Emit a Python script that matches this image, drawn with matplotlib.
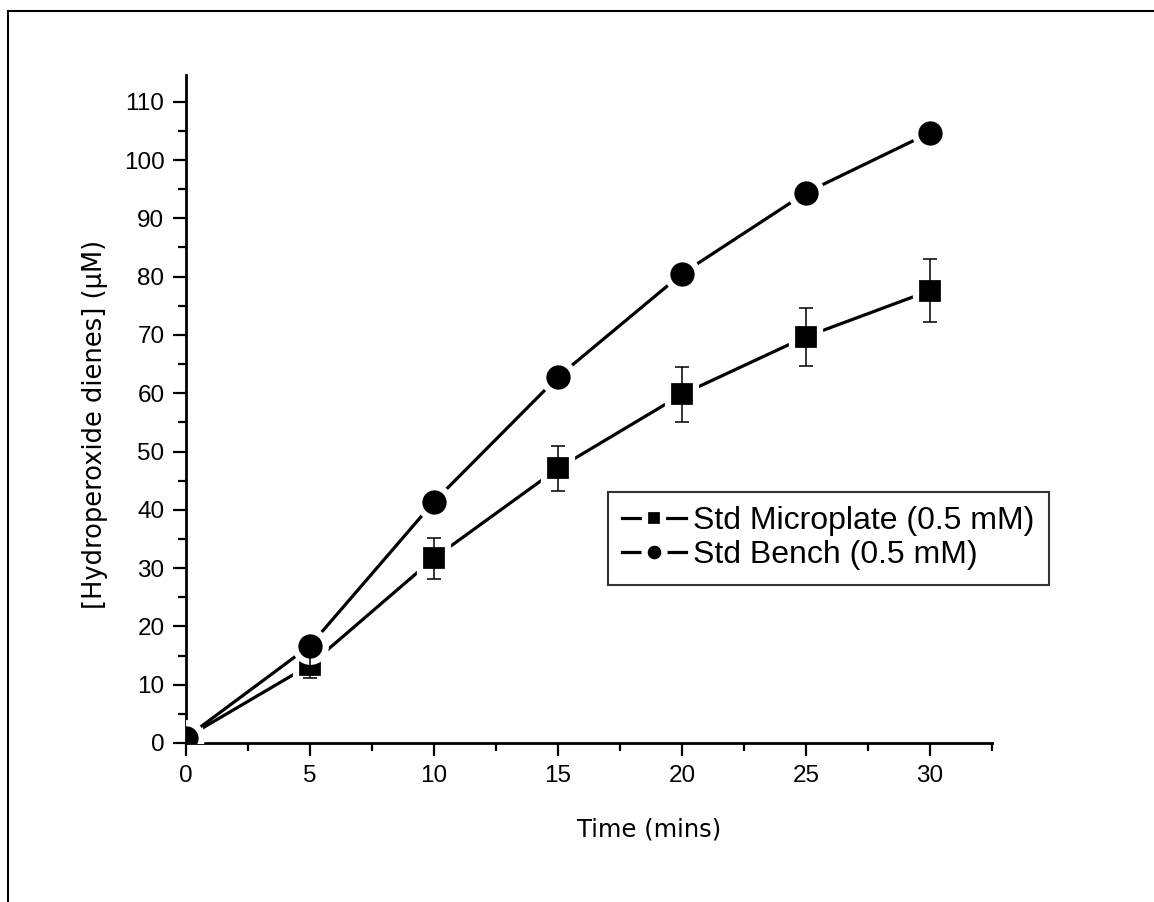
import numpy as np
import matplotlib
matplotlib.use('Agg')
import matplotlib.pyplot as plt
from matplotlib.lines import Line2D

# data
time = [0, 5, 10, 15, 20, 25, 30]
micro = [0.9, 13.4, 31.7, 47.1, 59.8, 69.7, 77.6]
micro_err = [0, 2.3, 3.5, 3.85, 4.7, 5.0, 5.4]
bench = [0.9, 16.7, 41.4, 62.8, 80.5, 94.4, 104.7]

tickfont = 'Liberation Sans'
labelfont = 'DejaVu Sans'

fig = plt.figure(figsize=(11.54, 9.02), dpi=100)
ax = fig.add_axes([0.1612, 0.1763, 0.8596 - 0.1612, 0.9169 - 0.1763])

# lines with a white rim round the markers (gap between line and marker)
ax.plot(time, micro, '-s', color='black', lw=2.3, ms=20, mfc='black', mec='white', mew=4.5,
        label='Std Microplate (0.5 mM)', zorder=3)
ax.plot(time, bench, '-o', color='black', lw=2.3, ms=22, mfc='black', mec='white', mew=4.5,
        label='Std Bench (0.5 mM)', zorder=3)
ax.errorbar(time, micro, yerr=micro_err, fmt='none', ecolor='black', elinewidth=1.1,
            capsize=5, capthick=1.1, zorder=4)

ax.set_xlim(0, 32.5)
ax.set_ylim(0, 114.6)
ax.set_xticks(np.arange(0, 31, 5))
ax.set_xticks(np.arange(2.5, 33, 5), minor=True)
ax.set_yticks(np.arange(0, 111, 10))
ax.set_yticks(np.arange(5, 115, 10), minor=True)

ax.spines['top'].set_visible(False)
ax.spines['right'].set_visible(False)
ax.spines['left'].set_linewidth(2)
ax.spines['bottom'].set_linewidth(2)
ax.tick_params(which='major', direction='out', length=9.5, width=1.6, pad=6, labelsize=17.5)
ax.tick_params(which='minor', direction='out', length=6, width=1.6)
for lab in ax.get_xticklabels() + ax.get_yticklabels():
    lab.set_fontfamily(tickfont)

ax.set_xlabel('Time (mins)', fontsize=17.5, fontfamily=labelfont)
ax.set_ylabel('[Hydroperoxide dienes] (\u00b5M)', fontsize=18.5, fontfamily=labelfont)
ax.xaxis.set_label_coords(0.5744, -0.111)
ax.yaxis.set_label_coords(-0.0968, 0.4775)

leg = ax.legend(loc='upper left', bbox_to_anchor=(608/1154, 1 - 492/902), bbox_transform=fig.transFigure,
                borderaxespad=0, frameon=True, fancybox=False, edgecolor='black',
                prop={'family': tickfont, 'size': 23}, handlelength=2.0, handletextpad=0.22,
                labelspacing=0.12, borderpad=0.45, markerscale=0.65)
leg.get_frame().set_linewidth(1.5)

# frame round the whole page (only left and top edges visible in the scan)
fig.add_artist(Line2D([8/1154, 8/1154], [0, 1 - 11/902], transform=fig.transFigure, color='black', lw=1.5))
fig.add_artist(Line2D([8/1154, 1], [1 - 11/902, 1 - 11/902], transform=fig.transFigure, color='black', lw=1.5))

plt.savefig('out.png', dpi=100)
